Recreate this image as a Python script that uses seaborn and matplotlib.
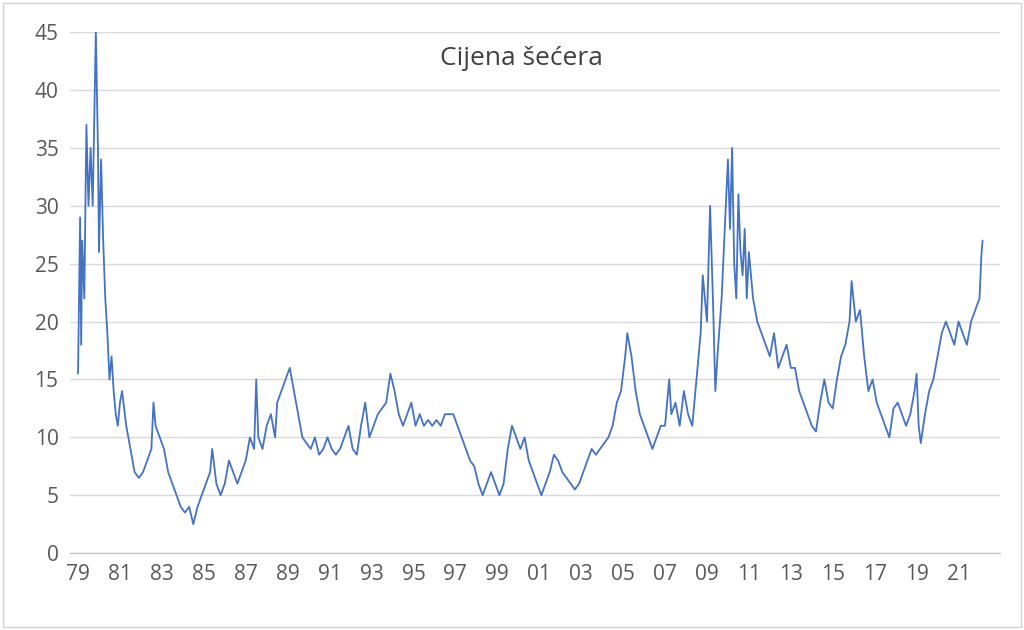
import matplotlib
matplotlib.use("Agg")
import matplotlib.pyplot as plt
import matplotlib.patches as mpatches
import seaborn as sns
import pandas as pd

# values (fractional year, price)
years = [1979.0, 1979.05, 1979.1, 1979.15, 1979.2, 1979.3, 1979.4, 1979.5, 1979.6, 1979.7, 1979.8, 1979.85,
         1979.95, 1980.0, 1980.1, 1980.2, 1980.3, 1980.4, 1980.5, 1980.6, 1980.7, 1980.8, 1980.9, 1981.0,
         1981.1, 1981.3, 1981.5, 1981.7, 1981.9, 1982.1, 1982.3, 1982.5, 1982.6, 1982.7, 1982.9, 1983.1,
         1983.3, 1983.5, 1983.7, 1983.9, 1984.1, 1984.3, 1984.5, 1984.7, 1984.9, 1985.1, 1985.3, 1985.4,
         1985.6, 1985.8, 1986.0, 1986.2, 1986.4, 1986.6, 1986.8, 1987.0, 1987.2, 1987.4, 1987.5, 1987.6,
         1987.8, 1988.0, 1988.2, 1988.4, 1988.5, 1988.7, 1988.9, 1989.1, 1989.3, 1989.5, 1989.7, 1989.9,
         1990.1, 1990.3, 1990.5, 1990.7, 1990.9, 1991.1, 1991.3, 1991.5, 1991.7, 1991.9, 1992.1, 1992.3,
         1992.5, 1992.7, 1992.9, 1993.1, 1993.3, 1993.5, 1993.7, 1993.9, 1994.1, 1994.3, 1994.5, 1994.7,
         1994.9, 1995.1, 1995.3, 1995.5, 1995.7, 1995.9, 1996.1, 1996.3, 1996.5, 1996.7, 1996.9, 1997.1,
         1997.3, 1997.5, 1997.7, 1997.9, 1998.1, 1998.3, 1998.5, 1998.7, 1998.9, 1999.1, 1999.3, 1999.5,
         1999.7, 1999.9, 2000.1, 2000.3, 2000.5, 2000.7, 2000.9, 2001.1, 2001.3, 2001.5, 2001.7, 2001.9,
         2002.1, 2002.3, 2002.5, 2002.7, 2002.9, 2003.1, 2003.3, 2003.5, 2003.7, 2003.9, 2004.1, 2004.3,
         2004.5, 2004.7, 2004.9, 2005.1, 2005.2, 2005.4, 2005.6, 2005.8, 2006.0, 2006.2, 2006.4, 2006.6,
         2006.8, 2007.0, 2007.2, 2007.3, 2007.5, 2007.7, 2007.9, 2008.1, 2008.3, 2008.5, 2008.7, 2008.8,
         2008.9, 2009.0, 2009.15, 2009.3, 2009.4, 2009.5, 2009.7, 2009.9, 2010.0, 2010.1, 2010.2, 2010.3,
         2010.4, 2010.5, 2010.6, 2010.7, 2010.8, 2010.9, 2011.0, 2011.2, 2011.4, 2011.6, 2011.8, 2012.0,
         2012.2, 2012.4, 2012.6, 2012.8, 2013.0, 2013.2, 2013.4, 2013.6, 2013.8, 2014.0, 2014.2, 2014.4,
         2014.6, 2014.8, 2015.0, 2015.2, 2015.4, 2015.6, 2015.8, 2015.9, 2016.1, 2016.3, 2016.5, 2016.7,
         2016.9, 2017.1, 2017.3, 2017.5, 2017.7, 2017.9, 2018.1, 2018.3, 2018.5, 2018.7, 2018.9, 2019.0,
         2019.1, 2019.2, 2019.4, 2019.6, 2019.8, 2020.0, 2020.2, 2020.4, 2020.6, 2020.8, 2021.0, 2021.2,
         2021.4, 2021.6, 2021.8, 2022.0, 2022.1, 2022.15]
prices = [15.5, 22, 29, 18, 27, 22, 37, 30, 35, 30, 40, 45,
          35, 26, 34, 27, 22, 19, 15, 17, 14, 12, 11, 13,
          14, 11, 9, 7, 6.5, 7, 8, 9, 13, 11, 10, 9,
          7, 6, 5, 4, 3.5, 4, 2.5, 4, 5, 6, 7, 9,
          6, 5, 6, 8, 7, 6, 7, 8, 10, 9, 15, 10,
          9, 11, 12, 10, 13, 14, 15, 16, 14, 12, 10, 9.5,
          9, 10, 8.5, 9, 10, 9, 8.5, 9, 10, 11, 9, 8.5,
          11, 13, 10, 11, 12, 12.5, 13, 15.5, 14, 12, 11, 12,
          13, 11, 12, 11, 11.5, 11, 11.5, 11, 12, 12, 12, 11,
          10, 9, 8, 7.5, 6, 5, 6, 7, 6, 5, 6, 9,
          11, 10, 9, 10, 8, 7, 6, 5, 6, 7, 8.5, 8,
          7, 6.5, 6, 5.5, 6, 7, 8, 9, 8.5, 9, 9.5, 10,
          11, 13, 14, 17, 19, 17, 14, 12, 11, 10, 9, 10,
          11, 11, 15, 12, 13, 11, 14, 12, 11, 15, 19, 24,
          22, 20, 30, 21, 14, 17, 22, 30, 34, 28, 35, 25,
          22, 31, 26, 24, 28, 22, 26, 22, 20, 19, 18, 17,
          19, 16, 17, 18, 16, 16, 14, 13, 12, 11, 10.5, 13,
          15, 13, 12.5, 15, 17, 18, 20, 23.5, 20, 21, 17, 14,
          15, 13, 12, 11, 10, 12.5, 13, 12, 11, 12, 14, 15.5,
          11, 9.5, 12, 14, 15, 17, 19, 20, 19, 18, 20, 19,
          18, 20, 21, 22, 26, 27]
tick_years = list(range(1979, 2022, 2))
title = "Cijena šećera"

df = pd.DataFrame({"year": years, "price": prices})

sns.set_style("white")
plt.rcParams["font.family"] = ["Open Sans", "DejaVu Sans"]
grey = "#595959"

fig = plt.figure(figsize=(10.24, 6.3), dpi=100)
ax = fig.add_axes([0.068, 0.122, 0.909, 0.827])
sns.lineplot(data=df, x="year", y="price", ax=ax, color="#4472C4", linewidth=1.3)

ax.set_xlim(1978.6, 2023.0)
ax.set_ylim(0, 45)
ax.set_yticks(range(0, 46, 5))
ax.set_xticks(tick_years)
ax.set_xticklabels([f"{y % 100:02d}" for y in tick_years])
ax.tick_params(axis="both", labelsize=15, colors=grey, length=0, pad=8)
ax.set_xlabel("")
ax.set_ylabel("")
ax.grid(axis="y", color="#d9d9d9", linewidth=1)
for side in ["top", "right", "left"]:
    ax.spines[side].set_visible(False)
ax.spines["bottom"].set_color("#bfbfbf")
ax.text(0.485, 0.95, title, transform=ax.transAxes, ha="center", va="center", fontsize=19, color="#404040")

fig.patches.append(mpatches.Rectangle((0.003, 0.004), 0.994, 0.992, transform=fig.transFigure,
                                      fill=False, edgecolor="#d0d0d0", linewidth=1))
fig.savefig("out.png", dpi=100)
